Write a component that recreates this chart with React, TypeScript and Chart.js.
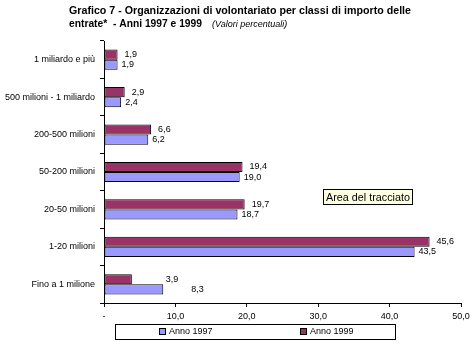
import React, { useEffect, useRef } from "react";
import { Chart, registerables } from "chart.js";

Chart.register(...registerables);

const categories = [
  "1 miliardo e più",
  "500 milioni - 1 miliardo",
  "200-500 milioni",
  "50-200 milioni",
  "20-50 milioni",
  "1-20 milioni",
  "Fino a 1 milione",
];
const values1999 = [1.9, 2.9, 6.6, 19.4, 19.7, 45.6, 3.9];
const values1997 = [1.9, 2.4, 6.2, 19.0, 18.7, 43.5, 8.3];
const xTickLabels: Record<number, string> = { 0: "-", 10: "10,0", 20: "20,0", 30: "30,0", 40: "40,0", 50: "50,0" };
const titleLine1 = "Grafico 7 - Organizzazioni di volontariato per classi di importo delle";
const titleLine2 = "entrate*  - Anni 1997 e 1999";
const titleNote = "(Valori percentuali)";
const legendLabels = ["Anno 1997", "Anno 1999"];
const plotAreaTip = "Area del tracciato";

const COLOR_1999 = "#993366";
const COLOR_1997 = "#9999FF";
const FONT = "'Liberation Sans', Arial, sans-serif";

const fmt = (v: number) => v.toFixed(1).replace(".", ",");

const overlayPlugin = {
  id: "overlay",
  afterDraw(chart: any) {
    const ctx = chart.ctx as CanvasRenderingContext2D;
    ctx.save();
    // Title
    ctx.fillStyle = "#000";
    ctx.textBaseline = "alphabetic";
    ctx.textAlign = "left";
    ctx.font = `bold 11px ${FONT}`;
    ctx.fillText(titleLine1, 69, 14, 342);
    ctx.fillText(titleLine2, 69, 27, 133);
    ctx.font = `italic 9px ${FONT}`;
    ctx.fillText(titleNote, 212, 27, 78);

    // Data labels
    ctx.font = `9px ${FONT}`;
    ctx.textBaseline = "middle";
    const manualShift = [0, 0, 0, 0, 0, 0, 1];
    chart.data.datasets.forEach((ds: any, di: number) => {
      const meta = chart.getDatasetMeta(di);
      const gap = di === 0 ? 7 : 4;
      const extra = di === 0 ? 27 : 24;
      meta.data.forEach((bar: any, i: number) => {
        const x = bar.x + gap + (manualShift[i] ? extra : 0);
        ctx.fillText(fmt(ds.data[i]), x, bar.y);
      });
    });

    // Plot area tooltip box
    ctx.fillStyle = "#FFFFE1";
    ctx.fillRect(323.5, 189.5, 89, 15);
    ctx.strokeStyle = "#000";
    ctx.lineWidth = 1;
    ctx.strokeRect(323.5, 189.5, 89, 15);
    ctx.fillStyle = "#000";
    ctx.font = `11px ${FONT}`;
    ctx.fillText(plotAreaTip, 326, 197.5, 84);

    // Legend
    ctx.fillStyle = "#fff";
    ctx.fillRect(115.5, 324.5, 280, 15);
    ctx.strokeRect(115.5, 324.5, 280, 15);
    const items = [
      { label: legendLabels[0], color: COLOR_1997, x: 159 },
      { label: legendLabels[1], color: COLOR_1999, x: 300 },
    ];
    ctx.font = `9px ${FONT}`;
    items.forEach((it) => {
      ctx.fillStyle = it.color;
      ctx.fillRect(it.x + 0.5, 328.5, 6, 6);
      ctx.strokeStyle = "#000";
      ctx.strokeRect(it.x + 0.5, 328.5, 6, 6);
      ctx.fillStyle = "#000";
      ctx.fillText(it.label, it.x + 10, 332);
    });
    ctx.restore();
  },
};

export default function App() {
  const ref = useRef<HTMLCanvasElement | null>(null);
  useEffect(() => {
    document.body.style.margin = "0";
    const canvas = ref.current!;
    const chart = new Chart(canvas, {
      type: "bar",
      data: {
        labels: categories,
        datasets: [
          {
            label: legendLabels[1],
            data: values1999,
            backgroundColor: COLOR_1999,
            borderColor: "#000",
            borderWidth: 1,
            borderSkipped: false,
          },
          {
            label: legendLabels[0],
            data: values1997,
            backgroundColor: COLOR_1997,
            borderColor: "#000",
            borderWidth: 1,
            borderSkipped: false,
          },
        ],
      },
      options: {
        indexAxis: "y",
        responsive: false,
        animation: false,
        events: [],
        layout: { padding: { top: 41, right: 13, left: 0, bottom: 0 } },
        datasets: { bar: { categoryPercentage: 0.54, barPercentage: 1 } },
        plugins: { legend: { display: false }, title: { display: false }, tooltip: { enabled: false } },
        scales: {
          x: {
            min: 0,
            max: 50,
            ticks: {
              stepSize: 10,
              color: "#000",
              font: { family: FONT, size: 9 },
              padding: 4,
              callback: (v: any) => xTickLabels[v as number] ?? "",
              maxRotation: 0,
            },
            grid: { drawOnChartArea: false, drawTicks: true, tickLength: 4, color: "#000" },
            border: { color: "#000", width: 1 },
            afterFit: (s: any) => {
              s.height = 43;
            },
          },
          y: {
            ticks: { color: "#000", font: { family: FONT, size: 9 }, padding: 5, autoSkip: false },
            grid: { drawOnChartArea: false, drawTicks: true, tickLength: 4, color: "#000", offset: true },
            border: { color: "#000", width: 1 },
            afterFit: (s: any) => {
              s.width = 104;
            },
          },
        },
      },
      plugins: [overlayPlugin],
    });
    return () => chart.destroy();
  }, []);
  return (
    <div style={{ width: 474, height: 346, background: "#fff" }}>
      <canvas ref={ref} width={474} height={346} style={{ display: "block" }} />
    </div>
  );
}
